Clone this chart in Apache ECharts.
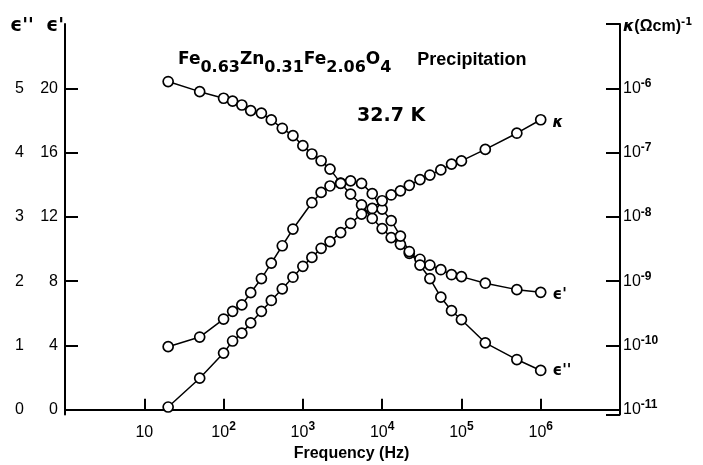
<!DOCTYPE html>
<html>
<head>
<meta charset="utf-8">
<script src="https://cdn.jsdelivr.net/npm/echarts@6/dist/echarts.min.js"></script>
<style>
  html, body { margin: 0; padding: 0; background: #fff; }
  #chart { width: 703px; height: 465px; }
</style>
</head>
<body>
<div id="chart"></div>
<script>
// Measurement frequencies (Hz)
const freqHz = [20, 50, 100, 130, 170, 220, 300, 400, 550, 750, 1000, 1300, 1700, 2200, 3000,
  4000, 5500, 7500, 10000, 13000, 17000, 22000, 30000, 40000, 55000, 75000, 100000, 200000, 500000, 1000000];

// Real part of permittivity, epsilon'
const epsPrime = [20.42, 19.79, 19.38, 19.20, 18.96, 18.61, 18.45, 18.03, 17.51, 17.05, 16.43, 15.91, 15.49, 14.97, 14.10,
  13.41, 12.74, 11.90, 11.27, 10.71, 10.29, 9.73, 9.36, 9.00, 8.71, 8.40, 8.28, 7.87, 7.47, 7.30];

// Imaginary part, epsilon'' (no reading at 1 kHz)
const epsDoublePrime = [0.98, 1.13, 1.41, 1.53, 1.63, 1.82, 2.04, 2.28, 2.55, 2.81, null, 3.22, 3.38, 3.48, 3.52,
  3.56, 3.52, 3.36, 3.12, 2.94, 2.70, 2.46, 2.25, 2.04, 1.75, 1.54, 1.40, 1.04, 0.78, 0.61];

// AC conductivity kappa, (Ohm cm)^-1
const kappa = [1.10e-11, 3.09e-11, 7.59e-11, 1.17e-10, 1.55e-10, 2.24e-10, 3.39e-10, 5.0e-10, 7.6e-10, 1.15e-9, 1.70e-9,
  2.34e-9, 3.24e-9, 4.12e-9, 5.69e-9, 7.94e-9, 1.10e-8, 1.35e-8, 1.78e-8, 2.19e-8, 2.54e-8, 3.09e-8, 3.80e-8,
  4.47e-8, 5.37e-8, 6.61e-8, 7.41e-8, 1.12e-7, 2.00e-7, 3.24e-7];

// Tick values for the two linear scales on the left
const epsPrimeTicks = [0, 4, 8, 12, 16, 20];
const epsDoublePrimeTicks = [0, 1, 2, 3, 4, 5];

const FONT = 'Liberation Sans, Arial, sans-serif';
const BOLD = 'DejaVu Sans, Liberation Sans, sans-serif';

function seriesData(values, endText, endStyle) {
  const out = [];
  freqHz.forEach(function (f, i) {
    if (values[i] !== null) out.push([f, values[i]]);
  });
  const last = out[out.length - 1];
  out[out.length - 1] = {
    value: last,
    label: Object.assign({
      show: true, position: 'right', distance: 6, formatter: endText,
      color: '#000', fontWeight: 'bold', fontSize: 15, fontFamily: BOLD
    }, endStyle || {})
  };
  return out;
}

function supLabel(base, exp) {
  return '{b|' + base + '}' + (exp === '' ? '' : '{s|' + exp + '}');
}

const lineCommon = {
  type: 'line',
  symbol: 'circle',
  symbolSize: 10,
  showSymbol: true,
  xAxisIndex: 0,
  lineStyle: { color: '#000', width: 1.5 },
  itemStyle: { color: '#fff', borderColor: '#000', borderWidth: 1.7 },
  emphasis: { disabled: true },
  animation: false,
  z: 5
};

const chart = echarts.init(document.getElementById('chart'), null, { renderer: 'canvas' });

chart.setOption({
  backgroundColor: '#fff',
  animation: false,
  grid: { left: 65, right: 83, top: 24, bottom: 50.5, containLabel: false },
  title: [
    {
      left: 178, top: 51, padding: 0,
      text: '{a|Fe}{s|0.63}{a|Zn}{s|0.31}{a|Fe}{s|2.06}{a|O}{s|4}{sp| }{p|Precipitation}',
      textStyle: {
        rich: {
          a: { fontFamily: BOLD, fontWeight: 'bold', fontSize: 17, lineHeight: 18, verticalAlign: 'top', color: '#000' },
          s: { fontFamily: BOLD, fontWeight: 'bold', fontSize: 16, lineHeight: 18, verticalAlign: 'bottom', color: '#000' },
          sp: { fontSize: 18, lineHeight: 25, width: 26 },
          p: { fontFamily: FONT, fontWeight: 'bold', fontSize: 18, lineHeight: 18, verticalAlign: 'top', color: '#000' }
        }
      }
    },
    {
      left: 357, top: 107, padding: 0, text: '32.7 K',
      textStyle: { fontFamily: BOLD, fontWeight: 'bold', fontSize: 19, color: '#000' }
    },
    {
      left: 10, top: 17, padding: 0, text: 'ϵ\'\'',
      textStyle: { fontFamily: BOLD, fontWeight: 'bold', fontSize: 19, color: '#000' }
    },
    {
      left: 46, top: 17, padding: 0, text: 'ϵ\'',
      textStyle: { fontFamily: BOLD, fontWeight: 'bold', fontSize: 19, color: '#000' }
    },
    {
      left: 623, top: 17, padding: 0,
      text: '{k|κ}{t|(Ωcm)}{s|-1}',
      textStyle: {
        rich: {
          k: { fontFamily: BOLD, fontWeight: 'bold', fontStyle: 'italic', fontSize: 16, lineHeight: 19, color: '#000' },
          t: { fontFamily: FONT, fontWeight: 'bold', fontSize: 16, lineHeight: 19, color: '#000' },
          s: { fontFamily: BOLD, fontWeight: 'bold', fontSize: 10, lineHeight: 10, verticalAlign: 'top', color: '#000' }
        }
      }
    },
    {
      left: 'center', top: 446, padding: 0, text: 'Frequency (Hz)',
      textStyle: { fontFamily: FONT, fontWeight: 'bold', fontSize: 16, color: '#000' }
    }
  ],
  xAxis: [
    {
      type: 'log', logBase: 10, min: 1, max: 1e7, position: 'bottom',
      axisLine: { show: true, lineStyle: { color: '#000', width: 2 } },
      axisTick: { show: true, inside: true, length: 11, lineStyle: { color: '#000', width: 2 } },
      minorTick: { show: false },
      splitLine: { show: false },
      axisLabel: {
        margin: 6, color: '#000',
        formatter: function (v) {
          const e = Math.round(Math.log10(v));
          if (e < 1 || e > 6) return '';
          return e === 1 ? '{b|10}' : supLabel('10', String(e));
        },
        rich: {
          b: { fontFamily: FONT, fontSize: 16, lineHeight: 24, color: '#000' },
          s: { fontFamily: FONT, fontSize: 12, fontWeight: 'bold', lineHeight: 10, verticalAlign: 'top', color: '#000' }
        }
      }
    },
    {
      type: 'log', logBase: 10, min: 1, max: 1e7, position: 'top',
      axisLine: { show: true, lineStyle: { color: '#000', width: 2 } },
      axisTick: { show: false }, axisLabel: { show: false }, splitLine: { show: false }
    }
  ],
  yAxis: [
    {
      type: 'value', min: -0.3, max: 24, position: 'left',
      axisLine: { show: true, lineStyle: { color: '#000', width: 2 } },
      axisTick: { show: true, inside: true, length: 13, customValues: epsPrimeTicks, lineStyle: { color: '#000', width: 2 } },
      axisLabel: { customValues: epsPrimeTicks, margin: 7, fontFamily: FONT, fontSize: 16, color: '#000' },
      splitLine: { show: false }
    },
    {
      type: 'value', min: -0.075, max: 6, position: 'left', offset: 33,
      axisLine: { show: false }, axisTick: { show: false },
      axisLabel: { customValues: epsDoublePrimeTicks, margin: 8, fontFamily: FONT, fontSize: 16, color: '#000' },
      splitLine: { show: false }
    },
    {
      type: 'log', logBase: 10, min: 8.414e-12, max: 1e-5, position: 'right', splitNumber: 6,
      axisLine: { show: true, lineStyle: { color: '#000', width: 2 } },
      axisTick: { show: true, inside: true, length: 14, lineStyle: { color: '#000', width: 2 } },
      minorTick: { show: false },
      axisLabel: {
        margin: 3, color: '#000',
        formatter: function (v) {
          const l = Math.log10(v);
          const e = Math.round(l);
          if (Math.abs(l - e) > 1e-6 || e > -6) return '';
          return supLabel('10', '-' + String(-e));
        },
        rich: {
          b: { fontFamily: FONT, fontSize: 16, lineHeight: 21, color: '#000' },
          s: { fontFamily: FONT, fontSize: 12, fontWeight: 'bold', lineHeight: 11, verticalAlign: 'top', color: '#000' }
        }
      },
      splitLine: { show: false }
    }
  ],
  series: [
    Object.assign({}, lineCommon, {
      name: 'epsPrime', yAxisIndex: 0,
      data: seriesData(epsPrime, "ϵ'", { offset: [0, 3] })
    }),
    Object.assign({}, lineCommon, {
      name: 'epsDoublePrime', yAxisIndex: 1,
      data: seriesData(epsDoublePrime, "ϵ''", { offset: [0, 1] })
    }),
    Object.assign({}, lineCommon, {
      name: 'kappa', yAxisIndex: 2,
      data: seriesData(kappa, 'κ', { fontStyle: 'italic', offset: [0, 3] })
    })
  ]
});
</script>
</body>
</html>
